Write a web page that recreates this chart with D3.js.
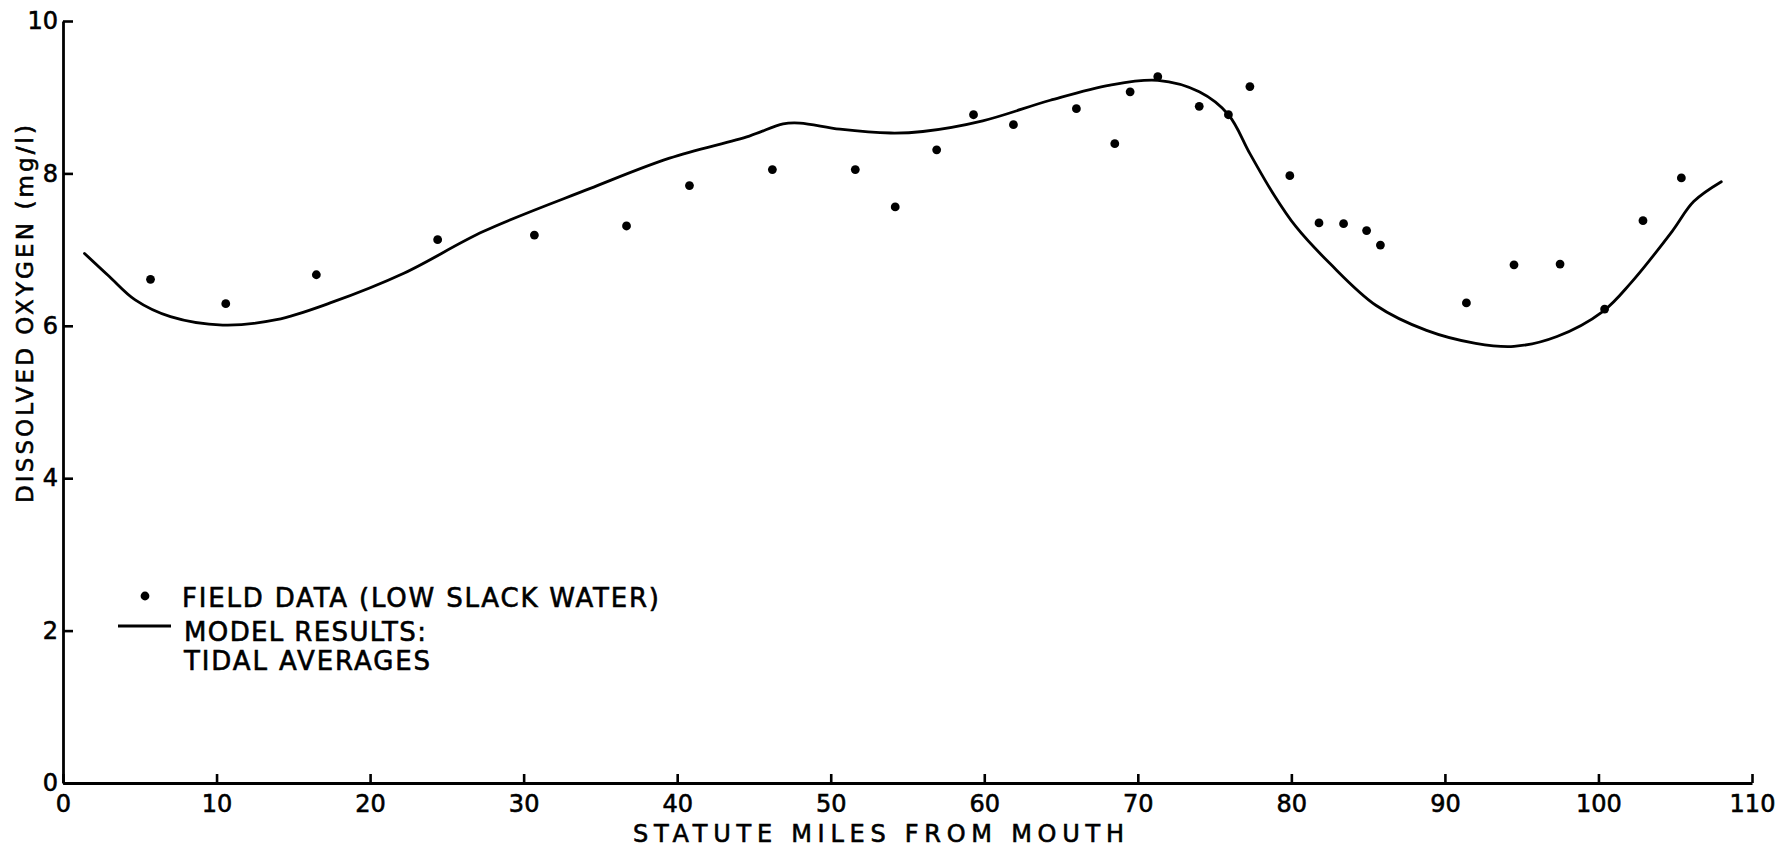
<!DOCTYPE html>
<html>
<head>
<meta charset="utf-8">
<script src="https://d3js.org/d3.v7.min.js"></script>
<style>
  body { margin: 0; background: #fff; }
  text { font-family: "DejaVu Sans", sans-serif; fill: #000; stroke: #000; stroke-width: 0.6px; }
</style>
</head>
<body>
<script>
/* ***************************************************************** */
/* DATA ************************************************************ */
// field data, low slack water: miles from mouth / DO (mg/l)
var fieldMiles = [5.7, 10.6, 16.5, 24.4, 30.7, 36.7, 40.8, 46.2, 51.6, 54.2,
                  56.9, 59.3, 61.9, 66.0, 68.5, 69.5, 71.3, 74.0, 75.9, 77.3,
                  79.9, 81.8, 83.4, 84.9, 85.8, 91.4, 94.5, 97.5, 100.4, 102.9, 105.4];
var fieldDO    = [6.61, 6.29, 6.67, 7.13, 7.19, 7.31, 7.84, 8.05, 8.05, 7.56,
                  8.31, 8.77, 8.64, 8.85, 8.39, 9.07, 9.27, 8.88, 8.77, 9.14,
                  7.97, 7.35, 7.34, 7.25, 7.06, 6.30, 6.80, 6.81, 6.22, 7.38, 7.94];

// model results, tidal averages
var modelMiles = [1.4, 3.0, 4.7, 7.0, 10.4, 13.9, 17.4, 22.2, 27.4, 34.3,
                  39.5, 44.7, 46.9, 48.0, 50.6, 53.9, 56.0, 59.9, 64.3, 68.2,
                  71.3, 74.0, 75.9, 77.3, 78.8, 80.3, 82.5, 85.5, 88.8, 92.0,
                  94.5, 97.3, 100.3, 102.1, 104.8, 106.2, 108.0];
var modelDO    = [6.95, 6.65, 6.34, 6.12, 6.01, 6.08, 6.30, 6.69, 7.24, 7.80,
                  8.20, 8.49, 8.65, 8.66, 8.58, 8.53, 8.55, 8.69, 8.96, 9.16,
                  9.22, 9.07, 8.77, 8.26, 7.74, 7.30, 6.82, 6.27, 5.94, 5.77,
                  5.73, 5.86, 6.19, 6.56, 7.24, 7.63, 7.89];

var xTicks = [0, 10, 20, 30, 40, 50, 60, 70, 80, 90, 100, 110];
var yTicks = [0, 2, 4, 6, 8, 10];

var legendLabels = ["FIELD DATA (LOW SLACK WATER)", "MODEL RESULTS:", "TIDAL AVERAGES"];

/* ***************************************************************** */
/* SVG INIT ******************************************************** */
var width = 1780, height = 849;

var svg = d3.select("body").append("svg")
    .attr("width", width)
    .attr("height", height);

var x = d3.scaleLinear().domain([0, 110]).range([63, 1752]);
var y = d3.scaleLinear().domain([0, 10]).range([783, 21]);

/* ***************************************************************** */
/* AXES ************************************************************ */
var xAxis = svg.append("g")
    .attr("transform", "translate(0," + y(0) + ")")
    .call(d3.axisBottom(x).tickValues(xTicks).tickSize(-9).tickSizeOuter(0).tickPadding(12));
var yAxis = svg.append("g")
    .attr("transform", "translate(" + x(0) + ",0)")
    .call(d3.axisLeft(y).tickValues(yTicks).tickSize(-10).tickSizeOuter(0).tickPadding(5));

[xAxis, yAxis].forEach(function(g){
  g.selectAll("path.domain").attr("stroke", "#000").attr("stroke-width", 2.8);
  g.selectAll(".tick line").attr("stroke", "#000").attr("stroke-width", 2.6);
  g.selectAll(".tick text").style("font-size", "24px").attr("fill", "#000");
});

// axis titles
svg.append("text")
    .attr("x", 633).attr("y", 842)
    .attr("textLength", 491).attr("lengthAdjust", "spacing")
    .style("font-size", "24px")
    .text("STATUTE MILES FROM MOUTH");

svg.append("text")
    .attr("transform", "translate(33,503) rotate(-90)")
    .attr("textLength", 378).attr("lengthAdjust", "spacing")
    .style("font-size", "23px")
    .text("DISSOLVED OXYGEN (mg/l)");

/* ***************************************************************** */
/* MODEL CURVE + FIELD POINTS ************************************** */
var line = d3.line()
    .x(function(d){ return x(d[0]); })
    .y(function(d){ return y(d[1]); })
    .curve(d3.curveCatmullRom.alpha(0.5));

svg.append("path")
    .datum(d3.zip(modelMiles, modelDO))
    .attr("d", line)
    .attr("fill", "none")
    .attr("stroke", "#000")
    .attr("stroke-width", 2.8)
    .attr("stroke-linejoin", "round")
    .attr("stroke-linecap", "round");

svg.append("g").selectAll("circle")
    .data(d3.zip(fieldMiles, fieldDO))
    .join("circle")
    .attr("cx", function(d){ return x(d[0]); })
    .attr("cy", function(d){ return y(d[1]); })
    .attr("r", 4.4)
    .attr("fill", "#000");

/* ***************************************************************** */
/* LEGEND ********************************************************** */
var lg = svg.append("g");
lg.append("circle").attr("cx", 145).attr("cy", 596).attr("r", 4.4).attr("fill", "#000");
lg.append("line").attr("x1", 118).attr("x2", 171).attr("y1", 626).attr("y2", 626)
    .attr("stroke", "#000").attr("stroke-width", 2.8);

var legendPos = [[182, 607, 477], [184, 641, 242], [184, 670, 246]];
lg.selectAll("text")
    .data(legendLabels)
    .join("text")
    .attr("x", function(d, i){ return legendPos[i][0]; })
    .attr("y", function(d, i){ return legendPos[i][1]; })
    .attr("textLength", function(d, i){ return legendPos[i][2]; })
    .attr("lengthAdjust", "spacing")
    .style("font-size", "26px")
    .text(function(d){ return d; });
</script>
</body>
</html>
